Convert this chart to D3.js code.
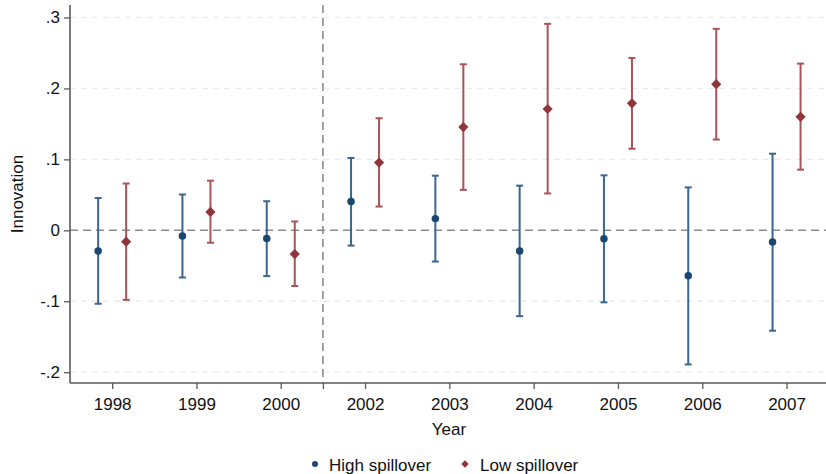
<!DOCTYPE html>
<html>
<head>
<meta charset="utf-8">
<script src="https://cdn.jsdelivr.net/npm/d3@7"></script>
<style>
  body { margin: 0; background: #fff; }
  svg { display: block; font-family: "Liberation Sans", Arial, sans-serif; }
</style>
</head>
<body>
<div id="chart"></div>
<script>
// data
var years = ["1998", "1999", "2000", "2002", "2003", "2004", "2005", "2006", "2007"];
var highEst = [-0.029, -0.008, -0.0115, 0.0405, 0.0165, -0.029, -0.012, -0.064, -0.0165];
var highLo  = [-0.1035, -0.0665, -0.0645, -0.0215, -0.044, -0.121, -0.1015, -0.189, -0.1415];
var highHi  = [0.0455, 0.0505, 0.041, 0.102, 0.077, 0.063, 0.0775, 0.0605, 0.108];
var lowEst  = [-0.016, 0.026, -0.0335, 0.0955, 0.1455, 0.171, 0.179, 0.206, 0.160];
var lowLo   = [-0.098, -0.0175, -0.0785, 0.0335, 0.057, 0.052, 0.115, 0.128, 0.0855];
var lowHi   = [0.066, 0.070, 0.0125, 0.158, 0.234, 0.291, 0.243, 0.284, 0.235];
var yTicks = [-0.2, -0.1, 0, 0.1, 0.2, 0.3];
var breakPos = 3.5;

var svgWidth = 826;
var svgHeight = 474;

var margin = { top: 5, left: 70, right: 0, bottom: 91 };
var Width = svgWidth - margin.left - margin.right;
var Height = svgHeight - margin.top - margin.bottom;

var blue = "#1a476f", blueBar = "#3a6690";
var red = "#90353b", redBar = "#a8525a";

var svg = d3.select("#chart")
    .append("svg")
    .attr("width", svgWidth)
    .attr("height", svgHeight);

var chartGroup = svg.append("g")
    .attr("transform", `translate(${margin.left}, ${margin.top})`);

var xScale = d3.scaleLinear()
    .domain([0.5, 9.5])
    .range([0, 758.7]);

var yScale = d3.scaleLinear()
    .domain([-0.2152, 0.3176])
    .range([Height, 0]);

// grid
chartGroup.selectAll(".grid")
    .data(yTicks.filter(d => d !== 0))
    .enter()
    .append("line")
    .attr("x1", 0).attr("x2", Width)
    .attr("y1", d => yScale(d)).attr("y2", d => yScale(d))
    .attr("stroke", "#ebebeb")
    .attr("stroke-width", 1.3)
    .attr("stroke-dasharray", "6,5");

// zero line + break line
chartGroup.append("line")
    .attr("x1", 0).attr("x2", Width)
    .attr("y1", yScale(0)).attr("y2", yScale(0))
    .attr("stroke", "#8c8c8c")
    .attr("stroke-width", 1.6)
    .attr("stroke-dasharray", "8,5");

chartGroup.append("line")
    .attr("x1", xScale(breakPos)).attr("x2", xScale(breakPos))
    .attr("y1", 0).attr("y2", Height)
    .attr("stroke", "#8c8c8c")
    .attr("stroke-width", 1.6)
    .attr("stroke-dasharray", "8,5");

// axes
var tickPos = d3.range(1, years.length + 1).concat([breakPos]);
var bottomAxis = d3.axisBottom(xScale)
    .tickValues(tickPos)
    .tickSize(6)
    .tickPadding(9)
    .tickFormat(d => Number.isInteger(d) ? years[d - 1] : "");

var leftAxis = d3.axisLeft(yScale)
    .tickValues(yTicks)
    .tickSize(6)
    .tickPadding(4)
    .tickFormat(d => d === 0 ? "0" : d3.format(".1f")(d).replace("\u2212", "-").replace("0.", "."));

var xAxis = chartGroup.append("g")
    .attr("transform", `translate(0, ${Height})`)
    .call(bottomAxis);

var yAxis = chartGroup.append("g")
    .call(leftAxis);

[xAxis, yAxis].forEach(function(ax) {
    ax.select(".domain").attr("stroke", "#5a5a5a").attr("stroke-width", 1.6)
        .attr("d", ax === xAxis ? `M0,0H${Width + 5}` : `M0,0V${Height}`);
    ax.selectAll(".tick line").attr("stroke", "#5a5a5a").attr("stroke-width", 1.3);
    ax.selectAll("text").attr("font-size", 17).attr("fill", "#111");
});

// axis titles
chartGroup.append("text")
    .attr("x", Width / 2 + 1)
    .attr("y", Height + 52)
    .attr("text-anchor", "middle")
    .attr("font-size", 17)
    .attr("fill", "#111")
    .text("Year");

chartGroup.append("text")
    .attr("transform", "rotate(-90)")
    .attr("x", -Height / 2)
    .attr("y", -47)
    .attr("text-anchor", "middle")
    .attr("font-size", 17)
    .attr("fill", "#111")
    .text("Innovation");

// series
var series = [
    { est: highEst, lo: highLo, hi: highHi, off: -14, color: blue, bar: blueBar, shape: d3.symbolCircle, size: 44 },
    { est: lowEst, lo: lowLo, hi: lowHi, off: 14, color: red, bar: redBar, shape: d3.symbolDiamond2, size: 66 }
];

series.forEach(function(s) {
    var rows = years.map((y, i) => ({ i: i + 1, est: s.est[i], lo: s.lo[i], hi: s.hi[i] }));
    var g = chartGroup.append("g");

    g.selectAll(".bar").data(rows).enter().append("line")
        .attr("x1", d => xScale(d.i) + s.off).attr("x2", d => xScale(d.i) + s.off)
        .attr("y1", d => yScale(d.lo)).attr("y2", d => yScale(d.hi))
        .attr("stroke", s.bar).attr("stroke-width", 2);

    ["lo", "hi"].forEach(function(k) {
        g.selectAll(".cap" + k).data(rows).enter().append("line")
            .attr("x1", d => xScale(d.i) + s.off - 3.5).attr("x2", d => xScale(d.i) + s.off + 3.5)
            .attr("y1", d => yScale(d[k])).attr("y2", d => yScale(d[k]))
            .attr("stroke", s.bar).attr("stroke-width", 2);
    });

    g.selectAll(".pt").data(rows).enter().append("path")
        .attr("transform", d => `translate(${xScale(d.i) + s.off}, ${yScale(d.est)})`)
        .attr("d", d3.symbol().type(s.shape).size(s.size))
        .attr("fill", s.color);
});

// legend
var legend = svg.append("g");
legend.append("path")
    .attr("transform", "translate(315, 464)")
    .attr("d", d3.symbol().type(d3.symbolCircle).size(28))
    .attr("fill", blue);
legend.append("text")
    .attr("x", 329).attr("y", 471)
    .attr("font-size", 17).attr("fill", "#111")
    .text("High spillover");
legend.append("path")
    .attr("transform", "translate(465, 464)")
    .attr("d", d3.symbol().type(d3.symbolDiamond2).size(36))
    .attr("fill", red);
legend.append("text")
    .attr("x", 480).attr("y", 471)
    .attr("font-size", 17).attr("fill", "#111")
    .text("Low spillover");
</script>
</body>
</html>
